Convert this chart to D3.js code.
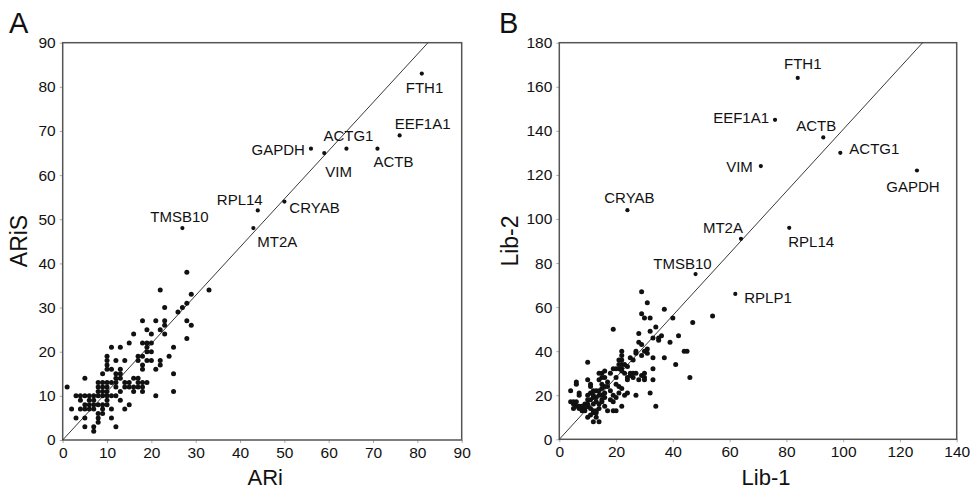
<html>

<head>
  <script src="https://d3js.org/d3.v7.min.js"></script>
  <style>
    body { margin: 0; background: white; }
    text { font-family: "Liberation Sans", Arial, sans-serif; fill: #111; }
    .frame { fill: none; stroke: #555; stroke-width: 1.5px; }
    .fit { stroke: #222; stroke-width: 0.9px; }
    .tick line { stroke: #aaa; }
  </style>
</head>

<body>
  <svg id="chart" width="973" height="490"></svg>
  <script>
    // panel A: ARi vs ARiS
    const ariTicks = d3.range(0, 91, 10);
    const ariGenes = ["FTH1", "EEF1A1", "ACTB", "ACTG1", "GAPDH", "VIM", "CRYAB", "RPL14", "MT2A", "TMSB10"];
    const ariGeneX = [81, 76, 71, 64, 56, 59, 50, 44, 43, 27];
    const ariGeneY = [83, 69, 66, 66, 66, 65, 54, 52, 48, 48];
    const ariOther = [[1,12],[2,7],[3,5],[3,10],[4,10],[5,10],[6,10],[7,10],[8,10],[9,10],[5,14],[4,9],[5,8],[5,7],[6,9],[7,9],[6,7],[7,7],[5,5],[5,3],[7,3],[7,2],[8,4],[8,5],[8,6],[8,8],[9,8],[10,8],[9,7],[9,6],[11,7],[11,5],[12,3],[8,11],[9,11],[10,11],[8,12],[9,12],[10,12],[8,13],[9,13],[10,13],[10,10],[9,15],[10,19],[10,18],[10,17],[10,16],[11,21],[11,16],[12,18],[12,15],[12,13],[12,12],[12,10],[13,21],[13,16],[13,14],[13,11],[13,9],[14,18],[14,12],[14,7],[15,22],[15,12],[15,13],[15,8],[16,24],[16,14],[16,11],[17,19],[17,18],[17,13],[17,12],[18,27],[18,22],[18,19],[18,17],[18,16],[18,13],[18,12],[18,11],[19,25],[19,22],[19,21],[19,20],[19,13],[20,24],[20,20],[20,18],[21,27],[21,16],[21,10],[22,34],[22,25],[22,18],[22,17],[23,30],[23,27],[23,26],[23,24],[24,19],[25,21],[25,15],[25,11],[26,29],[27,30],[28,31],[28,38],[28,27],[28,23],[29,33],[29,26],[33,34],[6,8],[11,10],[14,13],[19,18],[16,12],[12,14],[7,8],[10,9],[11,13],[4,7],[20,22],[17,14],[13,15]];
    const ariFit = [[0, 0], [82.4, 90]];

    // panel B: Lib-1 vs Lib-2
    const libXTicks = d3.range(0, 141, 20);
    const libYTicks = d3.range(0, 181, 20);
    const libGenes = ["FTH1", "EEF1A1", "ACTB", "ACTG1", "VIM", "GAPDH", "CRYAB", "MT2A", "RPL14", "TMSB10", "RPLP1"];
    const libGeneX = [84, 76, 93, 99, 71, 126, 24, 64, 81, 48, 62];
    const libGeneY = [164, 145, 137, 130, 124, 122, 104, 91, 96, 75, 66];
    const libOther = [[29,67],[31,62],[37,59],[54,56],[29,57],[30,55],[32,55],[40,55],[47,53],[19,50],[34,51],[32,49],[28,48],[42,47],[35,46],[35,45],[33,46],[28,44],[29,43],[39,44],[31,41],[27,40],[30,40],[44,40],[45,40],[22,40],[27,39],[22,38],[33,37],[37,37],[25,37],[21,36],[41,34],[21,34],[22,34],[33,32],[21,32],[22,32],[23,30],[25,30],[26,30],[30,30],[30,28],[46,28],[19,32],[16,31],[14,30],[15,30],[20,28],[15,28],[16,28],[28,27],[33,27],[26,28],[24,27],[10,27],[10,35],[11,25],[11,24],[21,24],[17,24],[22,23],[23,20],[24,21],[27,20],[32,21],[34,15],[22,15],[15,17],[19,17],[19,13],[20,13],[17,13],[16,15],[15,18],[16,21],[15,20],[12,20],[14,20],[10,18],[11,18],[9,16],[10,16],[6,17],[5,17],[4,22],[6,26],[6,25],[7,20],[4,17],[5,16],[6,15],[7,15],[8,14],[9,14],[10,15],[11,14],[10,10],[12,8],[14,8],[13,10],[12,12],[13,12],[11,11],[13,17],[14,16],[12,16],[14,22],[15,23],[16,24],[13,22],[12,19],[13,19],[8,15],[9,13],[7,14],[8,13],[18,22],[20,25],[23,34],[24,33],[22,36],[25,29],[27,30],[29,29],[30,27],[31,39],[29,38],[26,36],[36,47],[14,27],[17,26],[18,30],[20,32],[22,31],[24,28],[12,22],[11,21],[15,25],[10,20],[14,14],[16,19],[18,18],[19,20],[20,19],[21,21],[7,21],[5,14],[12,13],[13,13]];
    const libFit = [[0, 0], [128, 180]];

    // label placement (pixel offsets from the point, text-anchor)
    const ariLabelPos = {
      FTH1: [-16, 19, "start"], EEF1A1: [-5, -6, "start"], ACTB: [-4, 18, "start"],
      ACTG1: [-23, -8, "start"], GAPDH: [-6, 6, "end"], VIM: [1, 24, "start"],
      CRYAB: [5, 11, "start"], RPL14: [-18, -5, "middle"], MT2A: [4, 19, "start"],
      TMSB10: [-3, -6, "middle"]
    };
    const libLabelPos = {
      FTH1: [5, -9, "middle"], EEF1A1: [-6, 3, "end"], ACTB: [-7, -6, "middle"],
      ACTG1: [9, 1, "start"], VIM: [-8, 6, "end"], GAPDH: [-4, 22, "middle"],
      CRYAB: [2, -7, "middle"], MT2A: [-18, -6, "middle"], RPL14: [22, 19, "middle"],
      TMSB10: [-13, -5, "middle"], RPLP1: [9, 9, "start"]
    };

    const svg = d3.select('svg#chart');

    function drawPanel(opts) {
      let x = d3.scaleLinear().domain(opts.xDomain).range([opts.left, opts.right]);
      let y = d3.scaleLinear().domain(opts.yDomain).range([opts.bottom, opts.top]);
      let g = svg.append('g');

      let xAxis = g.append('g')
        .attr('transform', `translate(0,${opts.bottom})`)
        .call(d3.axisBottom(x).tickValues(opts.xTicks).tickSize(3).tickPadding(4));
      let yAxis = g.append('g')
        .attr('transform', `translate(${opts.left},0)`)
        .call(d3.axisLeft(y).tickValues(opts.yTicks).tickSize(3).tickPadding(4));
      [xAxis, yAxis].forEach(a => {
        a.select('.domain').remove();
        a.selectAll('text').style('font-size', '15.5px').attr('fill', '#111')
          .style('font-family', '"Liberation Sans", Arial, sans-serif');
      });

      g.append('rect').attr('class', 'frame')
        .attr('x', opts.left).attr('y', opts.top)
        .attr('width', opts.right - opts.left).attr('height', opts.bottom - opts.top);

      g.append('line').attr('class', 'fit')
        .attr('x1', x(opts.fit[0][0])).attr('y1', y(opts.fit[0][1]))
        .attr('x2', x(opts.fit[1][0])).attr('y2', y(opts.fit[1][1]));

      g.selectAll('circle.pt')
        .data(opts.others)
        .join('circle')
        .attr('class', 'pt')
        .attr('cx', d => x(d[0])).attr('cy', d => y(d[1]))
        .attr('r', 2.5).attr('fill', '#111');

      let genes = opts.genes.map((n, i) => ({ name: n, x: opts.geneX[i], y: opts.geneY[i] }));
      g.selectAll('circle.gene')
        .data(genes)
        .join('circle')
        .attr('class', 'gene')
        .attr('cx', d => x(d.x)).attr('cy', d => y(d.y))
        .attr('r', 2.1).attr('fill', '#111');
      g.selectAll('text.glabel')
        .data(genes)
        .join('text')
        .attr('class', 'glabel')
        .attr('x', d => x(d.x) + opts.labelPos[d.name][0])
        .attr('y', d => y(d.y) + opts.labelPos[d.name][1])
        .attr('text-anchor', d => opts.labelPos[d.name][2])
        .style('font-size', '15px')
        .text(d => d.name);

      g.append('text')
        .attr('x', (opts.left + opts.right) / 2 + opts.xTitleShift).attr('y', 485)
        .attr('text-anchor', 'middle').style('font-size', '22px')
        .text(opts.xTitle);
      g.append('text')
        .attr('transform', `translate(${opts.yTitleX},241) rotate(-90)`)
        .attr('text-anchor', 'middle').style('font-size', '23px')
        .text(opts.yTitle);
      g.append('text')
        .attr('x', opts.letterX).attr('y', 33)
        .style('font-size', '29px')
        .text(opts.letter);
    }

    drawPanel({
      left: 62.7, right: 461.7, top: 42.7, bottom: 440,
      xDomain: [0, 90], yDomain: [0, 90], xTicks: ariTicks, yTicks: ariTicks,
      genes: ariGenes, geneX: ariGeneX, geneY: ariGeneY, others: ariOther,
      fit: ariFit, labelPos: ariLabelPos,
      xTitle: "ARi", yTitle: "ARiS", xTitleShift: 3, yTitleX: 27, letter: "A", letterX: 9
    });

    drawPanel({
      left: 559.3, right: 956.7, top: 42.7, bottom: 439.3,
      xDomain: [0, 140], yDomain: [0, 180], xTicks: libXTicks, yTicks: libYTicks,
      genes: libGenes, geneX: libGeneX, geneY: libGeneY, others: libOther,
      fit: libFit, labelPos: libLabelPos,
      xTitle: "Lib-1", yTitle: "Lib-2", xTitleShift: 8, yTitleX: 518, letter: "B", letterX: 499
    });
  </script>

</body>

</html>
